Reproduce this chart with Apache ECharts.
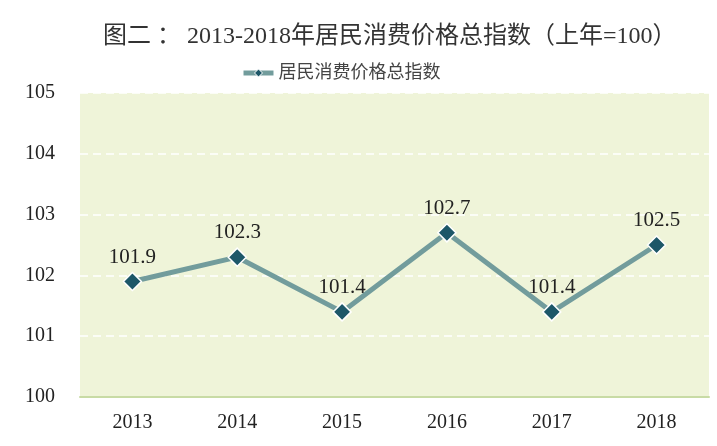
<!DOCTYPE html>
<html><head><meta charset="utf-8">
<script src="https://cdn.jsdelivr.net/npm/echarts@6/dist/echarts.min.js"></script>
<style>html,body{margin:0;padding:0;background:#fff}#c{width:717px;height:446px}</style>
</head><body><div id="c"></div>
<script>
var categories = ['2013','2014','2015','2016','2017','2018'];
var values = [101.9, 102.3, 101.4, 102.7, 101.4, 102.5];
var seriesName = '居民消费价格总指数';
var titleText = '图二 ： 2013-2018年居民消费价格总指数（上年=100）';
var FONT = '"Liberation Serif", "Noto Sans CJK SC", serif';
var chart = echarts.init(document.getElementById('c'));
chart.setOption({
  animation: false,
  title: {text: titleText, left: 98, top: 20, textStyle: {fontFamily: FONT, fontSize: 24, fontWeight: 'normal', color: '#333'}},
  legend: {data: [seriesName], top: 59, left: 236, itemWidth: 30, itemHeight: 10, itemGap: 2,
    lineStyle: {width: 5}, itemStyle: {borderWidth: 1},
    textStyle: {fontFamily: FONT, fontSize: 18, color: '#444'}},
  grid: {left: 80, right: 8, top: 93, bottom: 49, backgroundColor: '#eff4d9', show: true, borderWidth: 0},
  xAxis: {type: 'category', data: categories, boundaryGap: true,
    axisLine: {lineStyle: {color: '#c8dba5', width: 2}}, axisTick: {show: false},
    axisLabel: {fontFamily: FONT, fontSize: 20, color: '#222', margin: 16}},
  yAxis: {type: 'value', min: 100, max: 105, interval: 1,
    axisLine: {show: false}, axisTick: {show: false},
    axisLabel: {fontFamily: FONT, fontSize: 20, color: '#222', margin: 25},
    splitLine: {lineStyle: {color: '#ffffff', type: [8, 5], width: 1.5}}},
  series: [{name: seriesName, type: 'line', data: values, symbol: 'diamond', symbolSize: 18,
    lineStyle: {color: '#729c9c', width: 5},
    itemStyle: {color: '#1d5768', borderColor: '#ffffff', borderWidth: 1.5},
    label: {show: true, position: 'top', distance: 4, fontFamily: FONT, fontSize: 21, color: '#222'}}]
});
</script></body></html>
